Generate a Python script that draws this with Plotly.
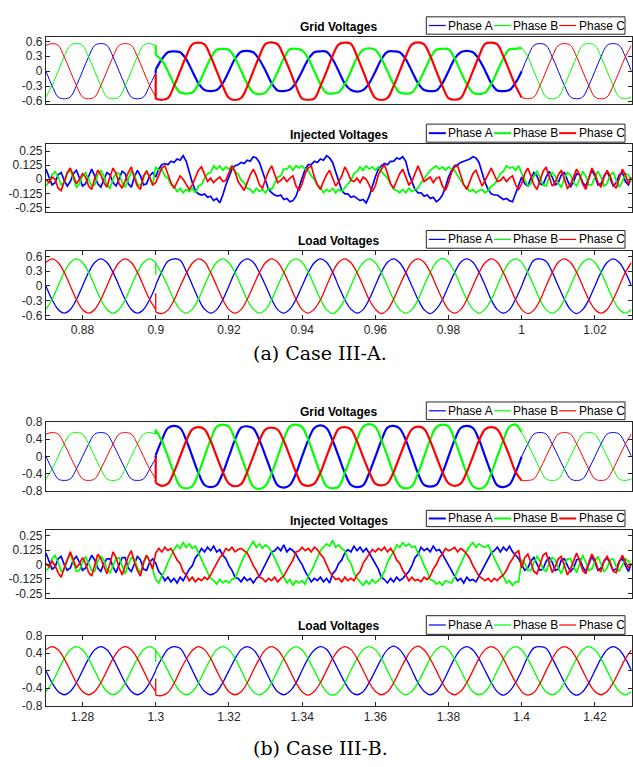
import plotly.graph_objects as go

# ======================= DATA =======================
# Grid / load voltages: samples every 1/600 s (k = 0..96); event at k = 18.
# PRE = k0..18, JUMP = [transient value, post-event value] at the event instant,
# EVT = k19..78, AFTER = k79..96
T0_A, T0_B = 0.87, 1.27
STEP_GL = 1 / 600
STEP_INJ = 1 / 1200

# ---- Case III-A : grid ----
GA_A_PRE = [0.0, -0.29, -0.52, -0.555, -0.52, -0.29, 0.0, 0.29, 0.52, 0.555, 0.52, 0.29, 0.0, -0.29, -0.52, -0.555, -0.52, -0.29, -0.04]
GA_A_JUMP = [-0.04, 0.03]
GA_A_EVT = [0.24, 0.38, 0.40, 0.38, 0.24, 0.00, -0.24, -0.38, -0.40, -0.38, -0.24, 0.00,
            0.25, 0.39, 0.41, 0.38, 0.23, 0.01, -0.24, -0.39, -0.40, -0.37, -0.23, 0.00,
            0.24, 0.38, 0.40, 0.39, 0.24, 0.00, -0.25, -0.38, -0.41, -0.38, -0.24, -0.01,
            0.24, 0.39, 0.40, 0.38, 0.24, 0.00, -0.24, -0.38, -0.40, -0.39, -0.24, 0.00,
            0.25, 0.38, 0.41, 0.38, 0.24, 0.01, -0.24, -0.39, -0.40, -0.38, -0.23, 0.00]
GA_A_AFTER = [0.29, 0.52, 0.555, 0.52, 0.29, 0.0, -0.29, -0.52, -0.555, -0.52, -0.29, 0.0, 0.29, 0.52, 0.555, 0.52, 0.29, 0.0]

GA_B_PRE = [-0.52, -0.29, 0.0, 0.29, 0.52, 0.555, 0.52, 0.29, 0.0, -0.29, -0.52, -0.555, -0.52, -0.29, 0.0, 0.29, 0.52, 0.555, 0.52]
GA_B_JUMP = [0.52, 0.33]
GA_B_EVT = [0.22, 0.00, -0.26, -0.43, -0.45, -0.43, -0.26, 0.00, 0.26, 0.43, 0.45, 0.43,
            0.26, 0.01, -0.25, -0.43, -0.46, -0.43, -0.26, -0.01, 0.26, 0.44, 0.45, 0.42,
            0.26, 0.00, -0.26, -0.44, -0.45, -0.42, -0.26, 0.00, 0.27, 0.43, 0.46, 0.43,
            0.25, 0.00, -0.26, -0.43, -0.45, -0.43, -0.25, 0.00, 0.26, 0.43, 0.45, 0.44,
            0.26, -0.01, -0.26, -0.43, -0.46, -0.43, -0.26, 0.00, 0.26, 0.44, 0.45, 0.47]
GA_B_AFTER = [0.29, 0.0, -0.29, -0.52, -0.555, -0.52, -0.29, 0.0, 0.29, 0.52, 0.555, 0.52, 0.29, 0.0, -0.29, -0.52, -0.555, -0.52]

GA_C_PRE = [0.52, 0.555, 0.52, 0.29, 0.0, -0.29, -0.52, -0.555, -0.52, -0.29, 0.0, 0.29, 0.52, 0.555, 0.52, 0.29, 0.0, -0.29, -0.52]
GA_C_JUMP = [-0.05, -0.56]
GA_C_EVT = [-0.575, -0.54, -0.30, 0.00, 0.30, 0.54, 0.575, 0.54, 0.30, 0.00, -0.30, -0.54,
            -0.58, -0.54, -0.31, 0.00, 0.30, 0.55, 0.58, 0.54, 0.30, 0.01, -0.30, -0.55,
            -0.575, -0.55, -0.30, -0.01, 0.31, 0.54, 0.575, 0.55, 0.30, 0.00, -0.31, -0.54,
            -0.58, -0.54, -0.30, 0.00, 0.30, 0.54, 0.58, 0.54, 0.31, 0.00, -0.30, -0.54,
            -0.575, -0.54, -0.30, 0.00, 0.30, 0.55, 0.575, 0.54, 0.30, 0.00, -0.30, -0.53]
GA_C_AFTER = [-0.555, -0.52, -0.29, 0.0, 0.29, 0.52, 0.555, 0.52, 0.29, 0.0, -0.29, -0.52, -0.555, -0.52, -0.29, 0.0, 0.29, 0.52]

# ---- Case III-A : load ----
LA_A_PRE = [0.0, -0.275, -0.476, -0.55, -0.476, -0.275, 0.0, 0.275, 0.476, 0.55, 0.476, 0.275, 0.0, -0.275, -0.476, -0.55, -0.476, -0.275, 0.0]
LA_A_JUMP = [0.0, 0.02]
LA_A_EVT = [0.29, 0.50, 0.55, 0.52, 0.30, 0.02, -0.26, -0.47, -0.55, -0.48, -0.28, 0.00,
            0.28, 0.48, 0.55, 0.48, 0.27, 0.01, -0.27, -0.48, -0.55, -0.47, -0.27, 0.00,
            0.27, 0.47, 0.55, 0.48, 0.28, -0.01, -0.28, -0.47, -0.55, -0.48, -0.27, 0.01,
            0.28, 0.48, 0.55, 0.47, 0.27, 0.00, -0.27, -0.48, -0.56, -0.47, -0.28, 0.00,
            0.27, 0.48, 0.55, 0.48, 0.28, 0.01, -0.28, -0.48, -0.55, -0.48, -0.27, 0.00]
LA_A_AFTER = [0.30, 0.52, 0.55, 0.50, 0.28, 0.00, -0.27, -0.48, -0.56, -0.48, -0.28, 0.00, 0.275, 0.476, 0.55, 0.476, 0.275, 0.0]

LA_B_PRE = [-0.476, -0.275, 0.0, 0.275, 0.476, 0.55, 0.476, 0.275, 0.0, -0.275, -0.476, -0.55, -0.476, -0.275, 0.0, 0.275, 0.476, 0.55, 0.476]
LA_B_JUMP = [0.22, 0.46]
LA_B_EVT = [0.25, -0.01, -0.28, -0.48, -0.55, -0.47, -0.27, 0.01, 0.28, 0.48, 0.55, 0.47,
            0.27, 0.00, -0.28, -0.47, -0.55, -0.48, -0.28, 0.00, 0.27, 0.48, 0.55, 0.48,
            0.28, 0.01, -0.27, -0.48, -0.56, -0.47, -0.27, 0.00, 0.28, 0.47, 0.55, 0.47,
            0.27, 0.00, -0.28, -0.48, -0.55, -0.48, -0.28, 0.01, 0.27, 0.48, 0.56, 0.48,
            0.28, 0.00, -0.27, -0.47, -0.55, -0.47, -0.27, 0.00, 0.28, 0.48, 0.55, 0.48]
LA_B_AFTER = [0.27, 0.00, -0.28, -0.48, -0.55, -0.48, -0.27, 0.00, 0.275, 0.476, 0.55, 0.476, 0.275, 0.0, -0.275, -0.476, -0.55, -0.476]

LA_C_PRE = [0.476, 0.55, 0.476, 0.275, 0.0, -0.275, -0.476, -0.55, -0.476, -0.275, 0.0, 0.275, 0.476, 0.55, 0.476, 0.275, 0.0, -0.275, -0.476]
LA_C_JUMP = [-0.15, -0.53]
LA_C_EVT = [-0.56, -0.49, -0.29, -0.01, 0.25, 0.46, 0.55, 0.49, 0.27, 0.00, -0.28, -0.48,
            -0.55, -0.48, -0.27, 0.00, 0.27, 0.47, 0.55, 0.48, 0.28, 0.01, -0.27, -0.48,
            -0.55, -0.47, -0.28, 0.00, 0.28, 0.48, 0.55, 0.47, 0.27, 0.00, -0.28, -0.47,
            -0.56, -0.48, -0.27, 0.01, 0.27, 0.48, 0.55, 0.48, 0.28, 0.00, -0.27, -0.48,
            -0.55, -0.48, -0.28, 0.00, 0.27, 0.47, 0.55, 0.48, 0.27, 0.00, -0.28, -0.48]
LA_C_AFTER = [-0.56, -0.49, -0.29, 0.00, 0.27, 0.48, 0.55, 0.476, 0.275, 0.0, -0.275, -0.476, -0.55, -0.476, -0.275, 0.0, 0.275, 0.476]

# ---- Case III-B : grid ----
GB_A_PRE = [0.0, -0.29, -0.52, -0.555, -0.52, -0.29, 0.0, 0.29, 0.52, 0.555, 0.52, 0.29, 0.0, -0.29, -0.52, -0.555, -0.52, -0.29, -0.04]
GB_A_JUMP = [-0.04, 0.03]
GB_A_EVT = [0.38, 0.66, 0.71, 0.66, 0.38, 0.00, -0.38, -0.66, -0.71, -0.66, -0.38, 0.00,
            0.39, 0.67, 0.70, 0.65, 0.38, 0.01, -0.37, -0.67, -0.72, -0.66, -0.39, 0.00,
            0.38, 0.66, 0.72, 0.66, 0.37, 0.00, -0.38, -0.66, -0.71, -0.67, -0.38, -0.01,
            0.37, 0.67, 0.71, 0.65, 0.38, 0.00, -0.39, -0.66, -0.70, -0.66, -0.38, 0.00,
            0.38, 0.66, 0.71, 0.66, 0.39, 0.00, -0.38, -0.67, -0.71, -0.65, -0.37, 0.00]
GB_A_AFTER = [0.29, 0.52, 0.555, 0.52, 0.29, 0.0, -0.29, -0.52, -0.555, -0.52, -0.29, 0.0, 0.29, 0.52, 0.555, 0.52, 0.29, 0.0]

GB_B_PRE = [-0.52, -0.29, 0.0, 0.29, 0.52, 0.555, 0.52, 0.29, 0.0, -0.29, -0.52, -0.555, -0.52, -0.29, 0.0, 0.29, 0.52, 0.555, 0.52]
GB_B_JUMP = [0.52, 0.62]
GB_B_EVT = [0.36, 0.00, -0.39, -0.69, -0.74, -0.69, -0.39, 0.00, 0.39, 0.69, 0.74, 0.69,
            0.39, 0.01, -0.38, -0.70, -0.75, -0.68, -0.39, 0.00, 0.40, 0.70, 0.74, 0.68,
            0.39, 0.00, -0.39, -0.69, -0.74, -0.70, -0.38, -0.01, 0.39, 0.69, 0.75, 0.69,
            0.38, 0.00, -0.40, -0.68, -0.74, -0.69, -0.39, 0.00, 0.39, 0.68, 0.74, 0.70,
            0.39, -0.01, -0.39, -0.69, -0.75, -0.69, -0.39, 0.00, 0.38, 0.69, 0.74, 0.56]
GB_B_AFTER = [0.29, 0.0, -0.29, -0.52, -0.555, -0.52, -0.29, 0.0, 0.29, 0.52, 0.555, 0.52, 0.29, 0.0, -0.29, -0.52, -0.555, -0.52]

GB_C_PRE = [0.52, 0.555, 0.52, 0.29, 0.0, -0.29, -0.52, -0.555, -0.52, -0.29, 0.0, 0.29, 0.52, 0.555, 0.52, 0.29, 0.0, -0.29, -0.52]
GB_C_JUMP = [-0.02, -0.61]
GB_C_EVT = [-0.68, -0.63, -0.36, 0.00, 0.36, 0.63, 0.68, 0.63, 0.36, 0.00, -0.36, -0.63,
            -0.69, -0.64, -0.36, 0.01, 0.37, 0.63, 0.67, 0.62, 0.36, 0.00, -0.37, -0.64,
            -0.68, -0.63, -0.37, 0.00, 0.36, 0.64, 0.68, 0.63, 0.35, -0.01, -0.36, -0.63,
            -0.67, -0.62, -0.36, 0.00, 0.36, 0.63, 0.69, 0.64, 0.36, 0.00, -0.36, -0.62,
            -0.68, -0.63, -0.36, 0.00, 0.37, 0.63, 0.68, 0.63, 0.36, 0.01, -0.36, -0.56]
GB_C_AFTER = [-0.555, -0.52, -0.29, 0.0, 0.29, 0.52, 0.555, 0.52, 0.29, 0.0, -0.29, -0.52, -0.555, -0.52, -0.29, 0.0, 0.29, 0.52]

# ---- Case III-B : load ----
LB_A_PRE = [0.0, -0.275, -0.476, -0.55, -0.476, -0.275, 0.0, 0.275, 0.476, 0.55, 0.476, 0.275, 0.0, -0.275, -0.476, -0.55, -0.476, -0.275, 0.0]
LB_A_JUMP = [0.0, 0.02]
LB_A_EVT = [0.28, 0.49, 0.55, 0.51, 0.29, 0.01, -0.27, -0.47, -0.55, -0.48, -0.27, 0.00,
            0.27, 0.48, 0.55, 0.48, 0.28, 0.00, -0.28, -0.48, -0.55, -0.47, -0.28, 0.01,
            0.28, 0.47, 0.55, 0.49, 0.27, 0.00, -0.27, -0.48, -0.55, -0.48, -0.27, 0.00,
            0.27, 0.48, 0.56, 0.48, 0.28, 0.01, -0.28, -0.47, -0.55, -0.48, -0.28, 0.00,
            0.28, 0.48, 0.55, 0.47, 0.27, 0.00, -0.27, -0.48, -0.56, -0.47, -0.27, 0.00]
LB_A_AFTER = [0.31, 0.52, 0.55, 0.51, 0.28, 0.01, -0.27, -0.48, -0.56, -0.48, -0.28, 0.00, 0.275, 0.476, 0.55, 0.476, 0.275, 0.0]

LB_B_PRE = [-0.476, -0.275, 0.0, 0.275, 0.476, 0.55, 0.476, 0.275, 0.0, -0.275, -0.476, -0.55, -0.476, -0.275, 0.0, 0.275, 0.476, 0.55, 0.476]
LB_B_JUMP = [0.20, 0.46]
LB_B_EVT = [0.26, 0.00, -0.27, -0.47, -0.55, -0.48, -0.28, 0.00, 0.27, 0.48, 0.55, 0.48,
            0.28, 0.01, -0.28, -0.48, -0.55, -0.47, -0.27, 0.00, 0.28, 0.47, 0.55, 0.47,
            0.27, 0.00, -0.27, -0.48, -0.56, -0.48, -0.28, 0.01, 0.27, 0.48, 0.55, 0.48,
            0.28, 0.00, -0.28, -0.47, -0.55, -0.47, -0.27, 0.00, 0.28, 0.48, 0.56, 0.47,
            0.27, 0.01, -0.27, -0.48, -0.55, -0.48, -0.28, 0.00, 0.27, 0.48, 0.55, 0.48]
LB_B_AFTER = [0.27, 0.00, -0.28, -0.48, -0.55, -0.48, -0.27, 0.00, 0.275, 0.476, 0.55, 0.476, 0.275, 0.0, -0.275, -0.476, -0.55, -0.476]

LB_C_PRE = [0.476, 0.55, 0.476, 0.275, 0.0, -0.275, -0.476, -0.55, -0.476, -0.275, 0.0, 0.275, 0.476, 0.55, 0.476, 0.275, 0.0, -0.275, -0.476]
LB_C_JUMP = [-0.18, -0.56]
LB_C_EVT = [-0.57, -0.50, -0.29, 0.00, 0.26, 0.46, 0.55, 0.48, 0.28, 0.00, -0.27, -0.48,
            -0.55, -0.48, -0.28, 0.01, 0.27, 0.48, 0.55, 0.47, 0.27, 0.00, -0.28, -0.48,
            -0.56, -0.47, -0.27, 0.00, 0.28, 0.47, 0.55, 0.48, 0.28, 0.01, -0.27, -0.47,
            -0.55, -0.48, -0.28, 0.00, 0.27, 0.48, 0.56, 0.47, 0.27, 0.00, -0.28, -0.48,
            -0.55, -0.47, -0.27, 0.00, 0.28, 0.48, 0.55, 0.48, 0.27, 0.00, -0.27, -0.48]
LB_C_AFTER = [-0.56, -0.50, -0.29, 0.00, 0.27, 0.48, 0.55, 0.476, 0.275, 0.0, -0.275, -0.476, -0.55, -0.476, -0.275, 0.0, 0.275, 0.476]

# Injected voltages: samples every 1/1200 s (m = 0..192); PRE m0..35, EVT m36..155, POST m156..192
IA_A_PRE = [0.09, 0.02, -0.05, -0.03, 0.04, 0.06, -0.01, -0.06, -0.02, 0.05, 0.08, 0.01,
            -0.06, -0.04, 0.03, 0.09, 0.03, -0.04, -0.07, 0.00, 0.06, 0.04, -0.03, -0.06,
            0.01, 0.07, 0.05, -0.04, -0.07, 0.02, 0.08, 0.03, -0.05, -0.04, 0.03, 0.06]
IA_A_EVT = [0.02, 0.09, 0.13, 0.14, 0.13, 0.16, 0.15, 0.18, 0.17, 0.21, 0.16, 0.06, -0.03, -0.10, -0.13, -0.14, -0.13, -0.16, -0.15, -0.19, -0.17, -0.21, -0.14, -0.05,
            0.02, 0.09, 0.12, 0.13, 0.15, 0.14, 0.17, 0.16, 0.20, 0.19, 0.15, 0.07, -0.02, -0.09, -0.12, -0.14, -0.15, -0.14, -0.18, -0.17, -0.20, -0.19, -0.15, -0.07,
            0.01, 0.09, 0.13, 0.13, 0.16, 0.15, 0.18, 0.17, 0.21, 0.19, 0.15, 0.06, -0.02, -0.10, -0.13, -0.13, -0.16, -0.15, -0.17, -0.19, -0.18, -0.21, -0.15, -0.06,
            0.02, 0.09, 0.12, 0.14, 0.13, 0.16, 0.16, 0.19, 0.18, 0.20, 0.16, 0.05, -0.02, -0.09, -0.12, -0.12, -0.15, -0.14, -0.17, -0.16, -0.20, -0.18, -0.14, -0.07,
            0.02, 0.08, 0.12, 0.13, 0.15, 0.16, 0.17, 0.18, 0.20, 0.19, 0.15, 0.06, -0.03, -0.09, -0.13, -0.14, -0.14, -0.16, -0.18, -0.17, -0.19, -0.20, -0.13, -0.05]
IA_A_POST = [0.02, -0.04, -0.06, 0.01, 0.06, 0.03, -0.04, -0.05, 0.02, 0.07, 0.02, -0.05,
             -0.03, 0.04, 0.06, -0.01, -0.07, -0.02, 0.05, 0.04, -0.03, -0.06, 0.01, 0.08,
             0.03, -0.05, -0.04, 0.03, 0.07, 0.00, -0.06, -0.03, 0.04, 0.06, -0.02, -0.05, 0.02]

IA_B_PRE = [-0.06, -0.02, 0.04, 0.07, 0.02, -0.05, -0.03, 0.05, 0.08, 0.01, -0.07, -0.04,
            0.03, 0.06, 0.00, -0.06, -0.05, 0.04, 0.08, 0.03, -0.05, -0.08, 0.00, 0.06,
            0.05, -0.03, -0.07, 0.01, 0.07, 0.04, -0.04, -0.06, 0.02, 0.08, 0.02, -0.05]
IA_B_EVT = [0.11, 0.08, 0.09, 0.03, 0.01, -0.05, -0.06, -0.11, -0.08, -0.12, -0.09, -0.11, -0.08, -0.12, -0.06, -0.05, 0.01, 0.05, 0.06, 0.12, 0.09, 0.12, 0.08, 0.11,
            0.09, 0.12, 0.06, 0.05, -0.01, -0.03, -0.08, -0.09, -0.12, -0.08, -0.11, -0.09, -0.12, -0.08, -0.09, -0.03, 0.02, 0.03, 0.09, 0.09, 0.12, 0.08, 0.12, 0.10,
            0.12, 0.09, 0.08, 0.03, 0.00, -0.05, -0.07, -0.12, -0.09, -0.11, -0.08, -0.12, -0.09, -0.11, -0.07, -0.04, -0.01, 0.05, 0.07, 0.11, 0.08, 0.12, 0.09, 0.11,
            0.08, 0.11, 0.07, 0.04, 0.01, -0.04, -0.09, -0.10, -0.12, -0.09, -0.12, -0.08, -0.11, -0.09, -0.08, -0.03, 0.01, 0.04, 0.08, 0.10, 0.12, 0.09, 0.11, 0.08,
            0.11, 0.09, 0.08, 0.03, -0.01, -0.05, -0.07, -0.11, -0.09, -0.12, -0.10, -0.09, -0.12, -0.10, -0.06, -0.05, 0.00, 0.05, 0.07, 0.12, 0.10, 0.11, 0.08, 0.12]
IA_B_POST = [0.05, 0.00, -0.06, -0.04, 0.03, 0.07, 0.02, -0.05, -0.06, 0.02, 0.06, 0.03,
             -0.04, -0.07, 0.01, 0.06, 0.04, -0.03, -0.06, 0.00, 0.07, 0.03, -0.05, -0.05,
             0.02, 0.07, 0.02, -0.06, -0.04, 0.04, 0.06, -0.01, -0.07, -0.02, 0.05, 0.04, -0.03]

IA_C_PRE = [0.00, -0.03, 0.02, 0.00, -0.08, -0.10, -0.02, 0.06, 0.10, 0.03, -0.04, 0.00,
            0.05, 0.02, -0.06, -0.09, 0.01, 0.08, 0.04, -0.03, -0.07, 0.02, 0.10, 0.05,
            -0.04, -0.08, 0.00, 0.06, 0.11, 0.01, -0.06, -0.09, 0.03, 0.07, 0.02, -0.05]
IA_C_EVT = [-0.03, 0.04, 0.10, 0.12, 0.05, -0.03, -0.08, -0.02, 0.03, 0.00, -0.04, -0.09,
            -0.05, 0.02, 0.08, 0.11, 0.04, -0.02, 0.01, -0.03, 0.00, 0.02, -0.02, -0.01,
            0.06, 0.12, 0.07, -0.02, -0.06, -0.10, -0.03, 0.04, 0.09, 0.03, -0.05, -0.08,
            0.00, 0.07, 0.12, 0.04, -0.03, -0.01, 0.02, -0.02, 0.01, 0.03, -0.06, -0.10,
            -0.04, 0.05, 0.10, 0.12, 0.02, -0.05, -0.09, -0.02, 0.04, 0.08, 0.01, -0.06,
            -0.02, 0.03, 0.11, 0.06, -0.01, -0.02, 0.01, -0.03, 0.02, 0.00, -0.05, -0.11,
            -0.06, 0.04, 0.09, 0.13, 0.05, -0.04, -0.08, -0.02, 0.05, 0.09, 0.02, -0.05,
            -0.02, 0.06, 0.12, 0.05, -0.02, 0.00, 0.02, -0.03, 0.01, 0.02, -0.06, -0.10,
            -0.03, 0.06, 0.11, 0.12, 0.03, -0.05, -0.09, -0.01, 0.05, 0.08, 0.00, -0.06,
            -0.01, 0.05, 0.10, 0.04, -0.02, -0.01, 0.02, -0.02, 0.01, 0.03, -0.05, -0.09]
IA_C_POST = [-0.04, 0.05, 0.10, 0.03, -0.05, -0.09, 0.00, 0.07, 0.11, 0.02, -0.06, -0.03,
             0.04, 0.08, -0.01, -0.08, -0.05, 0.03, 0.09, 0.04, -0.04, -0.09, 0.01, 0.10,
             0.05, -0.03, -0.07, 0.02, 0.08, 0.03, -0.05, -0.08, 0.01, 0.09, 0.04, -0.04, 0.02]

IB_A_PRE = [0.10, 0.03, -0.04, -0.02, 0.05, 0.07, 0.00, -0.05, -0.03, 0.04, 0.07, 0.02,
            -0.05, -0.03, 0.02, 0.08, 0.04, -0.03, -0.06, 0.01, 0.05, 0.05, -0.02, -0.07,
            0.00, 0.06, 0.06, -0.03, -0.06, 0.01, 0.07, 0.04, -0.04, -0.05, 0.02, 0.05]
IB_A_EVT = [0.01, -0.06, -0.09, -0.14, -0.11, -0.15, -0.12, -0.16, -0.11, -0.14, -0.09, -0.04, -0.01, 0.06, 0.09, 0.14, 0.11, 0.15, 0.12, 0.16, 0.11, 0.13, 0.08, 0.05,
            -0.01, -0.05, -0.11, -0.12, -0.15, -0.11, -0.14, -0.12, -0.16, -0.12, -0.10, -0.05, 0.00, 0.05, 0.11, 0.12, 0.15, 0.12, 0.17, 0.11, 0.14, 0.12, 0.09, 0.04,
            0.00, -0.06, -0.10, -0.15, -0.12, -0.14, -0.11, -0.15, -0.12, -0.16, -0.08, -0.05, 0.01, 0.04, 0.10, 0.13, 0.11, 0.16, 0.12, 0.15, 0.11, 0.14, 0.10, 0.05,
            0.01, -0.04, -0.11, -0.13, -0.16, -0.12, -0.15, -0.11, -0.14, -0.12, -0.09, -0.06, -0.01, 0.06, 0.09, 0.15, 0.12, 0.14, 0.11, 0.16, 0.12, 0.13, 0.09, 0.04,
            0.00, -0.05, -0.10, -0.14, -0.12, -0.16, -0.11, -0.14, -0.13, -0.15, -0.10, -0.04, 0.00, 0.05, 0.10, 0.12, 0.15, 0.11, 0.15, 0.12, 0.16, 0.11, 0.08, 0.05]
IB_A_POST = [0.00, -0.05, -0.03, 0.03, 0.06, 0.01, -0.05, -0.04, 0.03, 0.06, 0.02, -0.05,
             -0.04, 0.04, 0.05, -0.01, -0.06, -0.03, 0.04, 0.05, -0.02, -0.06, 0.00, 0.07,
             0.02, -0.05, -0.03, 0.03, 0.06, 0.01, -0.05, -0.04, 0.03, 0.05, -0.01, -0.06, 0.01]

IB_B_PRE = [-0.05, -0.03, 0.05, 0.08, 0.02, -0.06, -0.04, 0.04, 0.09, 0.02, -0.06, -0.05,
            0.02, 0.07, 0.01, -0.05, -0.06, 0.03, 0.07, 0.04, -0.04, -0.07, -0.01, 0.05,
            0.06, -0.02, -0.08, 0.00, 0.06, 0.05, -0.03, -0.07, 0.01, 0.08, 0.03, -0.04]
IB_B_EVT = [-0.13, -0.16, -0.10, -0.05, 0.02, 0.08, 0.13, 0.17, 0.14, 0.19, 0.15, 0.18, 0.14, 0.16, 0.10, 0.05, -0.01, -0.07, -0.12, -0.14, -0.17, -0.13, -0.16, -0.14,
            -0.16, -0.13, -0.12, -0.05, 0.01, 0.07, 0.12, 0.16, 0.20, 0.15, 0.18, 0.14, 0.17, 0.15, 0.11, 0.06, 0.00, -0.06, -0.11, -0.16, -0.13, -0.18, -0.14, -0.16,
            -0.14, -0.17, -0.10, -0.06, 0.00, 0.06, 0.12, 0.15, 0.18, 0.16, 0.21, 0.15, 0.17, 0.14, 0.12, 0.05, 0.01, -0.07, -0.12, -0.15, -0.18, -0.14, -0.17, -0.13,
            -0.16, -0.14, -0.11, -0.06, 0.02, 0.07, 0.11, 0.17, 0.15, 0.19, 0.16, 0.18, 0.15, 0.16, 0.10, 0.06, -0.01, -0.06, -0.13, -0.14, -0.17, -0.15, -0.18, -0.14,
            -0.15, -0.16, -0.11, -0.05, 0.01, 0.07, 0.12, 0.16, 0.19, 0.15, 0.18, 0.16, 0.15, 0.17, 0.11, 0.05, 0.00, -0.05, -0.11, -0.16, -0.14, -0.18, -0.15, -0.15]
IB_B_POST = [0.04, 0.01, -0.05, -0.05, 0.02, 0.07, 0.03, -0.04, -0.06, 0.01, 0.06, 0.04,
             -0.03, -0.08, 0.00, 0.05, 0.05, -0.02, -0.07, 0.01, 0.08, 0.02, -0.05, -0.04,
             0.03, 0.07, 0.01, -0.06, -0.03, 0.04, 0.05, -0.02, -0.06, -0.01, 0.05, 0.03, -0.02]

IB_C_PRE = [0.01, -0.02, 0.03, -0.01, -0.07, -0.11, -0.03, 0.05, 0.11, 0.04, -0.03, 0.01,
            0.06, 0.01, -0.07, -0.10, 0.00, 0.09, 0.05, -0.02, -0.08, 0.01, 0.11, 0.06,
            -0.03, -0.09, -0.01, 0.07, 0.12, 0.02, -0.05, -0.10, 0.02, 0.08, 0.03, -0.04]
IB_C_EVT = [0.10, 0.14, 0.11, 0.15, 0.12, 0.14, 0.09, 0.04, 0.01, -0.06, -0.09, -0.14, -0.11, -0.15, -0.12, -0.14, -0.11, -0.13, -0.09, -0.04, 0.01, 0.06, 0.09, 0.14,
            0.12, 0.15, 0.11, 0.13, 0.14, 0.12, 0.10, 0.05, -0.01, -0.05, -0.11, -0.12, -0.15, -0.12, -0.14, -0.11, -0.15, -0.12, -0.10, -0.05, 0.00, 0.04, 0.11, 0.12,
            0.15, 0.12, 0.14, 0.11, 0.15, 0.13, 0.09, 0.06, 0.00, -0.06, -0.10, -0.13, -0.12, -0.15, -0.11, -0.14, -0.12, -0.14, -0.09, -0.06, 0.01, 0.05, 0.10, 0.13,
            0.11, 0.14, 0.12, 0.15, 0.11, 0.14, 0.10, 0.04, 0.01, -0.05, -0.09, -0.14, -0.11, -0.14, -0.13, -0.15, -0.11, -0.13, -0.10, -0.04, 0.00, 0.06, 0.09, 0.14,
            0.12, 0.13, 0.15, 0.11, 0.14, 0.12, 0.09, 0.05, -0.01, -0.05, -0.10, -0.12, -0.14, -0.12, -0.15, -0.12, -0.14, -0.11, -0.09, -0.05, 0.01, 0.05, 0.10, 0.12]
IB_C_POST = [-0.03, 0.06, 0.09, 0.02, -0.06, -0.08, 0.01, 0.08, 0.10, 0.01, -0.07, -0.02,
             0.05, 0.07, -0.02, -0.09, -0.04, 0.04, 0.10, 0.03, -0.05, -0.08, 0.02, 0.09,
             0.04, -0.04, -0.06, 0.03, 0.07, 0.02, -0.06, -0.07, 0.02, 0.08, 0.03, -0.03, 0.01]

PHASE_NAMES = ["Phase A", "Phase B", "Phase C"]
PANEL_TITLES = ["Grid Voltages", "Injected Voltages", "Load Voltages"]
CAPTIONS = ["(a) Case III-A.", "(b) Case III-B."]
Y_TICKS_A = [-0.6, -0.3, 0, 0.3, 0.6]
Y_TICKS_INJ = [-0.25, -0.125, 0, 0.125, 0.25]
Y_TICKS_B = [-0.8, -0.4, 0, 0.4, 0.8]
X_TICKS_A = [0.88, 0.90, 0.92, 0.94, 0.96, 0.98, 1.00, 1.02]
X_LABELS_A = ["0.88", "0.9", "0.92", "0.94", "0.96", "0.98", "1", "1.02"]
X_TICKS_B = [1.28, 1.30, 1.32, 1.34, 1.36, 1.38, 1.40, 1.42]
X_LABELS_B = ["1.28", "1.3", "1.32", "1.34", "1.36", "1.38", "1.4", "1.42"]

# ======================= STYLE / LAYOUT =======================
W, H = 633, 767
FONT = "Liberation Sans, Arial, Helvetica, sans-serif"
AXC = "#262626"
COLORS = ["#0000ff", "#00ff00", "#ff0000"]
X0_PX, X1_PX = 46.0, 632.5

# (top px, bottom px, y range, y ticks, title y px, legend box y px, kind)
PANELS = [
    (30.7, 99.3, [-0.67, 0.685], Y_TICKS_A, 20.7, (10.0, 27.7), "grid"),
    (140.0, 208.7, [-0.29, 0.31], Y_TICKS_INJ, 130.0, (119.3, 137.7), "inj"),
    (248.3, 317.7, [-0.668, 0.713], Y_TICKS_A, 238.3, (227.7, 245.7), "load"),
    (422.7, 493.0, [-0.8, 0.8], Y_TICKS_B, 412.3, (402.3, 420.3), "grid"),
    (532.7, 601.7, [-0.288, 0.30], Y_TICKS_INJ, 523.3, (512.7, 529.3), "inj"),
    (640.3, 711.7, [-0.8, 0.8], Y_TICKS_B, 630.7, (620.0, 639.0), "load"),
]
LEG_X0, LEG_X1 = 427.0, 626.0
CAPTION_Y = [352.0, 755.0]


def fmt_tick(v):
    return "%g" % v


def gl_traces(t0, pre, jump, evt, after, color, xa, ya, w_pre, w_evt, w_after):
    assert len(pre) == 19 and len(jump) == 2 and len(evt) == 60 and len(after) == 18, \
        (len(pre), len(jump), len(evt), len(after))
    tp = [t0 + k * STEP_GL for k in range(0, 19)]
    te = [t0 + k * STEP_GL for k in range(18, 79)]
    ta = [t0 + k * STEP_GL for k in range(78, 97)]
    tev = t0 + 18 * STEP_GL
    common = dict(xaxis=xa, yaxis=ya, mode="lines", showlegend=False, hoverinfo="skip")
    return [
        go.Scatter(x=tp, y=pre, line=dict(color=color, width=w_pre, shape="spline", smoothing=1.0), **common),
        go.Scatter(x=[tev, tev, tev], y=[pre[-1], jump[0], jump[1]], line=dict(color=color, width=w_evt), **common),
        go.Scatter(x=te, y=[jump[1]] + evt, line=dict(color=color, width=w_evt, shape="spline", smoothing=1.0), **common),
        go.Scatter(x=ta, y=[evt[-1]] + after, line=dict(color=color, width=w_after, shape="spline", smoothing=1.0), **common),
    ]


def inj_trace(t0, pre, evt, post, color, xa, ya, w):
    assert len(pre) == 36 and len(evt) == 120 and len(post) == 37, (len(pre), len(evt), len(post))
    y = pre + evt + post
    t = [t0 + m * STEP_INJ for m in range(len(y))]
    return go.Scatter(x=t, y=y, xaxis=xa, yaxis=ya, mode="lines", showlegend=False, hoverinfo="skip",
                      line=dict(color=color, width=w))


fig = go.Figure()

SERIES = [
    ("gl", T0_A, [(GA_A_PRE, GA_A_JUMP, GA_A_EVT, GA_A_AFTER), (GA_B_PRE, GA_B_JUMP, GA_B_EVT, GA_B_AFTER), (GA_C_PRE, GA_C_JUMP, GA_C_EVT, GA_C_AFTER)], (1.0, 2.2, 1.0)),
    ("inj", T0_A, [(IA_A_PRE, IA_A_EVT, IA_A_POST), (IA_B_PRE, IA_B_EVT, IA_B_POST), (IA_C_PRE, IA_C_EVT, IA_C_POST)], 1.7),
    ("gl", T0_A, [(LA_A_PRE, LA_A_JUMP, LA_A_EVT, LA_A_AFTER), (LA_B_PRE, LA_B_JUMP, LA_B_EVT, LA_B_AFTER), (LA_C_PRE, LA_C_JUMP, LA_C_EVT, LA_C_AFTER)], (1.3, 1.3, 1.3)),
    ("gl", T0_B, [(GB_A_PRE, GB_A_JUMP, GB_A_EVT, GB_A_AFTER), (GB_B_PRE, GB_B_JUMP, GB_B_EVT, GB_B_AFTER), (GB_C_PRE, GB_C_JUMP, GB_C_EVT, GB_C_AFTER)], (1.0, 2.2, 1.0)),
    ("inj", T0_B, [(IB_A_PRE, IB_A_EVT, IB_A_POST), (IB_B_PRE, IB_B_EVT, IB_B_POST), (IB_C_PRE, IB_C_EVT, IB_C_POST)], 1.7),
    ("gl", T0_B, [(LB_A_PRE, LB_A_JUMP, LB_A_EVT, LB_A_AFTER), (LB_B_PRE, LB_B_JUMP, LB_B_EVT, LB_B_AFTER), (LB_C_PRE, LB_C_JUMP, LB_C_EVT, LB_C_AFTER)], (1.3, 1.3, 1.3)),
]

for i, (kind, t0, data, widths) in enumerate(SERIES):
    xa, ya = "x%d" % (i + 1), "y%d" % (i + 1)
    for color, d in zip(COLORS, data):
        if kind == "gl":
            for tr in gl_traces(t0, *d, color, xa, ya, *widths):
                fig.add_trace(tr)
        else:
            fig.add_trace(inj_trace(t0, *d, color, xa, ya, widths))

layout = dict(width=W, height=H, margin=dict(l=0, r=0, t=0, b=0), autosize=False,
              paper_bgcolor="white", plot_bgcolor="white", showlegend=False,
              font=dict(family=FONT, size=12, color=AXC))
shapes, annotations = [], []

for i, (top, bot, yr, yt, title_y, leg_y, kind) in enumerate(PANELS):
    n = i + 1
    case_b = i >= 3
    is_load = kind == "load"
    xrange = [T0_B, T0_B + 0.16] if case_b else [T0_A, T0_A + 0.16]
    xax = dict(domain=[X0_PX / W, X1_PX / W], range=xrange, anchor="y%d" % n,
               showline=True, linecolor=AXC, linewidth=1, mirror="ticks" if is_load else True,
               showgrid=False, zeroline=False, fixedrange=True)
    if is_load:
        xax.update(tickvals=X_TICKS_B if case_b else X_TICKS_A,
                   ticktext=X_LABELS_B if case_b else X_LABELS_A,
                   ticks="inside", ticklen=4, tickcolor=AXC, tickwidth=1,
                   tickfont=dict(family=FONT, size=12, color=AXC))
    else:
        xax.update(showticklabels=False, ticks="")
    yax = dict(domain=[1 - bot / H, 1 - top / H], range=yr, anchor="x%d" % n,
               tickvals=yt, ticktext=[fmt_tick(v) for v in yt],
               ticks="inside", ticklen=4, tickcolor=AXC, tickwidth=1,
               showline=True, linecolor=AXC, linewidth=1, mirror="ticks",
               showgrid=False, zeroline=False, fixedrange=True,
               tickfont=dict(family=FONT, size=12, color=AXC))
    layout["xaxis%d" % n] = xax
    layout["yaxis%d" % n] = yax

    annotations.append(dict(x=(X0_PX + X1_PX) / 2 / W, y=1 - title_y / H, xref="paper", yref="paper",
                            text="<b>%s</b>" % PANEL_TITLES[i % 3], showarrow=False,
                            xanchor="center", yanchor="middle",
                            font=dict(family=FONT, size=12, color="black")))
    ly0, ly1 = leg_y
    lyc = (ly0 + ly1) / 2
    shapes.append(dict(type="rect", xref="paper", yref="paper",
                       x0=LEG_X0 / W, x1=LEG_X1 / W, y0=1 - ly1 / H, y1=1 - ly0 / H,
                       line=dict(color=AXC, width=1), fillcolor="white", layer="above"))
    lw = 2.0 if kind == "inj" else 1.2
    for j, (name, color) in enumerate(zip(PHASE_NAMES, COLORS)):
        lx = LEG_X0 + 2.5 + 65.3 * j
        shapes.append(dict(type="line", xref="paper", yref="paper",
                           x0=lx / W, x1=(lx + 17.0) / W, y0=1 - lyc / H, y1=1 - lyc / H,
                           line=dict(color=color, width=lw), layer="above"))
        annotations.append(dict(x=(lx + 18.5) / W, y=1 - lyc / H, xref="paper", yref="paper",
                                text=name, showarrow=False, xanchor="left", yanchor="middle",
                                borderpad=0, font=dict(family=FONT, size=12, color="black")))

for cap, cy in zip(CAPTIONS, CAPTION_Y):
    annotations.append(dict(x=321 / W, y=1 - cy / H, xref="paper", yref="paper", text=cap,
                            showarrow=False, xanchor="center", yanchor="middle",
                            font=dict(family="DejaVu Serif, serif", size=19, color="black")))

layout["shapes"] = shapes
layout["annotations"] = annotations
fig.update_layout(**layout)
fig.write_html("out.html", config={"displayModeBar": False},
               post_script="document.body.style.margin='0';document.body.style.padding='0';"
                           "document.documentElement.style.overflow='hidden';")
